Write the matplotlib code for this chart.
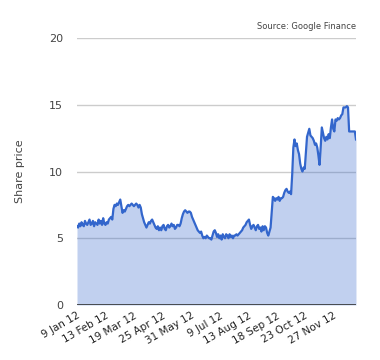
import numpy as np
import matplotlib
matplotlib.use("Agg")
import matplotlib.pyplot as plt

# daily closing prices, one per trading day from 9 Jan 12
prices = [
    5.9, 5.8, 6.1, 5.9, 6.2, 6.0, 5.9, 6.3, 6.1, 6.0,
    6.2, 6.4, 6.0, 6.1, 6.3, 5.9, 6.2, 6.1, 6.0, 6.4,
    6.1, 6.3, 6.0, 6.5, 6.1, 6.0, 6.2, 6.1, 6.4, 6.5,
    6.6, 6.4, 7.2, 7.5, 7.4, 7.6, 7.5, 7.7, 7.9, 7.4,
    6.9, 7.1, 7.0, 7.2, 7.4, 7.5, 7.4, 7.5, 7.6, 7.5,
    7.4, 7.5, 7.6, 7.5, 7.3, 7.5, 7.3, 6.8, 6.5, 6.2,
    6.0, 5.8, 6.0, 6.2, 6.1, 6.3, 6.4, 6.2, 6.0, 5.8,
    5.7, 5.9, 5.6, 5.8, 5.6, 5.9, 6.0, 5.7, 5.6, 5.9,
    6.0, 5.8, 5.9, 6.1, 5.9, 6.0, 5.7, 5.8, 6.0, 6.0,
    5.9, 6.1, 6.5, 6.8, 7.0, 7.1, 7.0, 6.9, 7.0, 7.0,
    6.9, 6.6, 6.4, 6.2, 6.0, 5.8, 5.6, 5.5, 5.4, 5.5,
    5.2, 5.0, 5.1, 5.0, 5.2, 5.1, 5.0, 5.0, 4.9, 5.2,
    5.5, 5.6, 5.4, 5.1, 5.3, 5.0, 5.2, 4.9, 5.3, 5.1,
    5.0, 5.3, 5.2, 5.0, 5.3, 5.1, 5.2, 5.0, 5.2, 5.2,
    5.3, 5.2, 5.3, 5.4, 5.5, 5.6, 5.8, 5.9, 6.0, 6.2,
    6.3, 6.4, 6.0, 5.7, 5.9, 6.0, 5.8, 5.6, 5.9, 6.0,
    5.7, 5.8, 5.5, 5.9, 5.6, 5.9, 5.8, 5.4, 5.2, 5.5,
    5.8, 7.0, 8.1, 8.0, 7.8, 8.0, 7.9, 8.1, 7.8, 8.0,
    8.0, 8.1, 8.4, 8.6, 8.7, 8.5, 8.4, 8.5, 8.3, 9.8,
    11.8, 12.4, 11.9, 12.1, 11.6, 11.3, 10.6, 10.2, 10.0, 10.3,
    10.2, 11.4, 12.6, 12.9, 13.2, 12.7, 12.6, 12.5, 12.3, 12.0,
    12.1, 11.8, 11.2, 10.5, 11.8, 13.3, 12.9, 12.5, 12.3, 12.6,
    12.4, 12.8, 12.5, 13.3, 13.9, 13.2, 13.0, 13.9, 13.8, 14.0,
    13.9, 14.0, 14.2, 14.3, 14.8, 14.8, 14.8, 14.9, 14.8, 13.0,
    13.0, 13.0, 13.0, 13.0, 13.0, 12.4,
]
tick_labels = ["9 Jan 12", "13 Feb 12", "19 Mar 12", "25 Apr 12", "31 May 12",
               "9 Jul 12", "13 Aug 12", "18 Sep 12", "23 Oct 12", "27 Nov 12"]
label_step = 25
y_ticks = [0, 5, 10, 15, 20]

x = np.arange(len(prices))

fig = plt.figure(figsize=(3.8, 3.6), dpi=100)
ax = fig.add_axes([0.2026, 0.1528, 0.7342, 0.7416])

for v in y_ticks[1:]:
    ax.axhline(v, color="#cccccc", lw=1, zorder=0)
ax.fill_between(x, 0, prices, color="#3366cc", alpha=0.3, lw=0, zorder=1)
ax.plot(x, prices, color="#3366cc", lw=1.6, zorder=2)
ax.axhline(0, color="#333333", lw=1.2, zorder=3)

ax.set_xlim(0, len(prices) - 1)
ax.set_ylim(0, 20)
ax.set_yticks(y_ticks)
ax.set_yticklabels([str(v) for v in y_ticks], fontsize=8, color="#444444")
ax.set_xticks(np.arange(len(tick_labels)) * label_step)
ax.set_xticklabels(tick_labels, rotation=30, ha="right", rotation_mode="anchor",
                   fontsize=7.5, color="#222222")
ax.tick_params(axis="both", length=0)
ax.tick_params(axis="y", pad=10)
ax.tick_params(axis="x", pad=4)
for s in ax.spines.values():
    s.set_visible(False)

ax.set_ylabel("Share price", fontsize=8, color="#444444", labelpad=17)
ax.text(1.0, 1.025, "Source: Google Finance", transform=ax.transAxes,
        ha="right", va="bottom", fontsize=6, color="#444444")

fig.savefig("out.png", dpi=100)
